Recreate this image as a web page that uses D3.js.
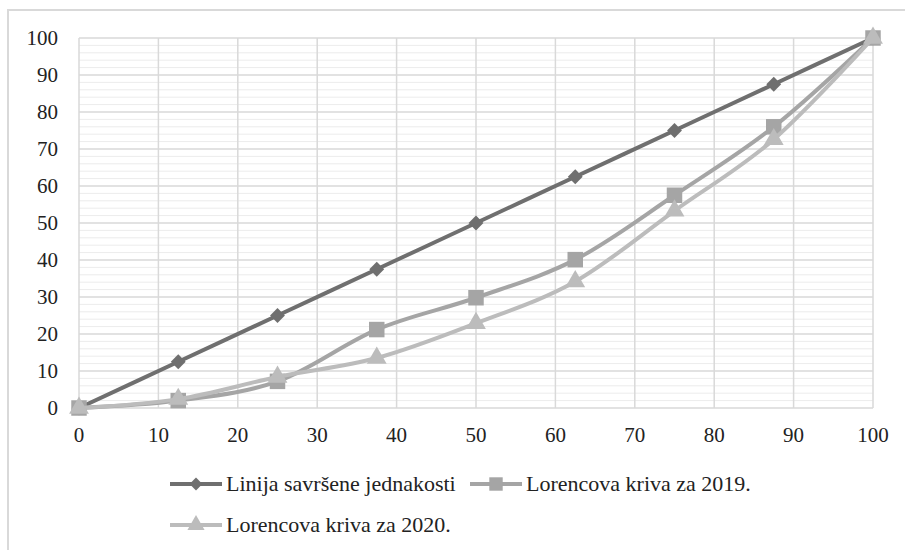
<!DOCTYPE html>
<html><head><meta charset="utf-8">
<script src="https://cdn.jsdelivr.net/npm/d3@7"></script>
</head><body style="margin:0">
<svg id="c" width="905" height="550"></svg>
<script>
const xValues = [0, 12.5, 25, 37.5, 50, 62.5, 75, 87.5, 100];
const equality = [0, 12.5, 25, 37.5, 50, 62.5, 75, 87.5, 100];
const lorenz2019 = [0, 2, 7.2, 21.2, 29.8, 40.1, 57.5, 76, 100];
const lorenz2020 = [0, 2.4, 8.4, 13.5, 22.9, 34.2, 53.3, 72.6, 100];
const xTicks = [0, 10, 20, 30, 40, 50, 60, 70, 80, 90, 100];
const yTicks = [0, 10, 20, 30, 40, 50, 60, 70, 80, 90, 100];
const seriesNames = ["Linija savršene jednakosti", "Lorencova kriva za 2019.", "Lorencova kriva za 2020."];

const svg = d3.select("#c");
svg.append("rect").attr("x",8).attr("y",10).attr("width",920).attr("height",560)
  .attr("fill","#fff").attr("stroke","#d9d9d9").attr("stroke-width",2);

const x = d3.scaleLinear().domain([0,100]).range([79,873]);
const y = d3.scaleLinear().domain([0,100]).range([408,38]);

const g = svg.append("g");
g.selectAll(".minor").data(d3.range(0,101,2).filter(v=>v%10!==0)).join("line")
  .attr("x1",x(0)).attr("x2",x(100)).attr("y1",d=>y(d)).attr("y2",d=>y(d))
  .attr("stroke","#ececec").attr("stroke-width",1);
g.selectAll(".hmaj").data(yTicks).join("line")
  .attr("x1",x(0)).attr("x2",x(100)).attr("y1",d=>y(d)).attr("y2",d=>y(d))
  .attr("stroke","#d9d9d9").attr("stroke-width",1.5);
g.selectAll(".vmaj").data(xTicks).join("line")
  .attr("y1",y(0)).attr("y2",y(100)).attr("x1",d=>x(d)).attr("x2",d=>x(d))
  .attr("stroke","#d9d9d9").attr("stroke-width",1.5);

// tick labels drawn from the scales
svg.selectAll(".xl").data(xTicks).join("text")
  .attr("x",d=>x(d)).attr("y",y(0)+34).attr("text-anchor","middle")
  .style("font-family","\"Times New Roman\"").style("font-size","21px").attr("fill","#222")
  .text(d=>d);
svg.selectAll(".yl").data(yTicks).join("text")
  .attr("x",x(0)-21).attr("y",d=>y(d)+7).attr("text-anchor","end")
  .style("font-family","\"Times New Roman\"").style("font-size","21px").attr("fill","#222")
  .text(d=>d);

const colors = ["#6f6f6f","#a5a5a5","#bcbcbc"];
const datasets = [equality, lorenz2019, lorenz2020];
const shapes = [d3.symbolSquare, d3.symbolSquare, d3.symbolTriangle];
const rot = [45, 0, 0];
const sizes = [110, 240, 170];
const line = d3.line().x((d,i)=>x(xValues[i])).y(d=>y(d)).curve(d3.curveCatmullRom.alpha(0));

datasets.forEach((ds,k)=>{
  svg.append("path").datum(ds).attr("d",line).attr("fill","none")
    .attr("stroke",colors[k]).attr("stroke-width",4).attr("stroke-linejoin","round");
  svg.selectAll(".m"+k).data(ds).join("path")
    .attr("transform",(d,i)=>`translate(${x(xValues[i])},${y(d)}) rotate(${rot[k]})`)
    .attr("d",d3.symbol().type(shapes[k]).size(sizes[k]))
    .attr("fill",colors[k]);
});

const legendPos = [[170,484],[470,484],[170,525]];
seriesNames.forEach((name,k)=>{
  const [lx,ly] = legendPos[k];
  svg.append("line").attr("x1",lx).attr("x2",lx+52).attr("y1",ly).attr("y2",ly)
    .attr("stroke",colors[k]).attr("stroke-width",4);
  svg.append("path").attr("transform",`translate(${lx+26},${ly}) rotate(${rot[k]})`)
    .attr("d",d3.symbol().type(shapes[k]).size(sizes[k]*0.75)).attr("fill",colors[k]);
  svg.append("text").attr("x",lx+56).attr("y",ly+7)
    .style("font-family","\"Times New Roman\"").style("font-size","22px").attr("fill","#222").text(name);
});
</script></body></html>
